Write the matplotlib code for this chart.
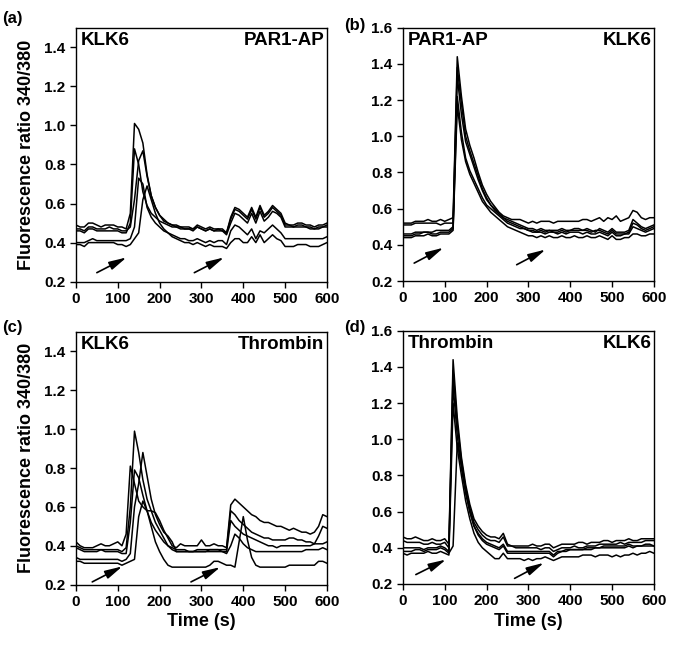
import numpy as np
import matplotlib
matplotlib.use("Agg")
import matplotlib.pyplot as plt

plt.rcParams['font.family'] = ['Liberation Sans', 'DejaVu Sans']
plt.rcParams['font.weight'] = 'bold'

# time axis (s), one reading every 10 s
time = np.arange(0, 601, 10)

# (a) KLK6 then PAR1-AP
a1 = [0.49, 0.48, 0.48, 0.50, 0.50, 0.49, 0.48, 0.49, 0.49, 0.49,
      0.48, 0.48, 0.47, 0.55, 1.01, 0.98, 0.91, 0.75, 0.64, 0.58,
      0.54, 0.52, 0.50, 0.49, 0.49, 0.48, 0.48, 0.48, 0.47, 0.49,
      0.48, 0.47, 0.48, 0.47, 0.47, 0.47, 0.45, 0.53, 0.58, 0.57,
      0.55, 0.53, 0.58, 0.53, 0.59, 0.54, 0.56, 0.59, 0.57, 0.55,
      0.50, 0.49, 0.49, 0.50, 0.50, 0.49, 0.49, 0.48, 0.49, 0.49,
      0.50]
a2 = [0.47, 0.47, 0.46, 0.48, 0.48, 0.47, 0.47, 0.47, 0.48, 0.47,
      0.47, 0.46, 0.46, 0.48, 0.62, 0.82, 0.87, 0.74, 0.64, 0.58,
      0.54, 0.51, 0.50, 0.49, 0.48, 0.48, 0.47, 0.47, 0.47, 0.48,
      0.47, 0.46, 0.47, 0.46, 0.47, 0.46, 0.45, 0.52, 0.57, 0.56,
      0.54, 0.52, 0.57, 0.52, 0.58, 0.53, 0.55, 0.58, 0.56, 0.54,
      0.49, 0.49, 0.48, 0.49, 0.49, 0.48, 0.48, 0.47, 0.48, 0.48,
      0.49]
a3 = [0.46, 0.46, 0.45, 0.47, 0.47, 0.46, 0.46, 0.46, 0.46, 0.46,
      0.46, 0.45, 0.45, 0.50, 0.88, 0.80, 0.66, 0.59, 0.55, 0.53,
      0.51, 0.50, 0.49, 0.48, 0.48, 0.47, 0.47, 0.47, 0.46, 0.48,
      0.47, 0.46, 0.47, 0.46, 0.46, 0.46, 0.44, 0.50, 0.55, 0.54,
      0.52, 0.50, 0.55, 0.50, 0.56, 0.51, 0.53, 0.56, 0.55, 0.53,
      0.48, 0.48, 0.48, 0.48, 0.48, 0.48, 0.47, 0.47, 0.47, 0.48,
      0.48]
a4 = [0.40, 0.40, 0.40, 0.41, 0.42, 0.41, 0.41, 0.41, 0.41, 0.41,
      0.41, 0.41, 0.41, 0.42, 0.48, 0.73, 0.70, 0.58, 0.53, 0.50,
      0.48, 0.46, 0.45, 0.44, 0.43, 0.42, 0.42, 0.41, 0.41, 0.42,
      0.41, 0.40, 0.41, 0.40, 0.41, 0.41, 0.39, 0.46, 0.49, 0.48,
      0.46, 0.44, 0.47, 0.42, 0.46, 0.45, 0.47, 0.49, 0.47, 0.45,
      0.42, 0.42, 0.42, 0.42, 0.42, 0.42, 0.42, 0.42, 0.42, 0.42,
      0.43]
a5 = [0.39, 0.39, 0.38, 0.40, 0.40, 0.40, 0.40, 0.40, 0.40, 0.40,
      0.39, 0.39, 0.38, 0.39, 0.42, 0.45, 0.62, 0.69, 0.62, 0.55,
      0.50, 0.47, 0.45, 0.43, 0.42, 0.41, 0.40, 0.40, 0.39, 0.40,
      0.39, 0.38, 0.39, 0.38, 0.38, 0.38, 0.37, 0.40, 0.42, 0.42,
      0.40, 0.40, 0.43, 0.40, 0.44, 0.40, 0.42, 0.44, 0.42, 0.41,
      0.38, 0.38, 0.38, 0.39, 0.39, 0.39, 0.38, 0.38, 0.38, 0.39,
      0.40]

# (b) PAR1-AP then KLK6
b1 = [0.52, 0.52, 0.52, 0.53, 0.53, 0.53, 0.54, 0.53, 0.53, 0.54,
      0.53, 0.54, 0.55, 1.44, 1.22, 1.04, 0.95, 0.88, 0.80, 0.73,
      0.68, 0.64, 0.61, 0.58, 0.56, 0.55, 0.54, 0.54, 0.54, 0.53,
      0.52, 0.53, 0.52, 0.53, 0.53, 0.53, 0.52, 0.53, 0.53, 0.53,
      0.53, 0.53, 0.53, 0.54, 0.54, 0.53, 0.54, 0.55, 0.53, 0.55,
      0.54, 0.56, 0.53, 0.54, 0.55, 0.59, 0.58, 0.55, 0.54, 0.55,
      0.55]
b2 = [0.51, 0.51, 0.51, 0.52, 0.52, 0.52, 0.52, 0.52, 0.52, 0.51,
      0.52, 0.52, 0.52, 1.38, 1.18, 1.00, 0.92, 0.85, 0.78, 0.71,
      0.66, 0.62, 0.60, 0.57, 0.55, 0.54, 0.53, 0.52, 0.51, 0.50,
      0.49, 0.49, 0.48, 0.49, 0.48, 0.48, 0.48, 0.48, 0.49, 0.48,
      0.48, 0.49, 0.49, 0.48, 0.49, 0.48, 0.47, 0.49, 0.48, 0.47,
      0.49, 0.47, 0.47, 0.47, 0.48, 0.54, 0.52, 0.50, 0.49, 0.50,
      0.51]
b3 = [0.46, 0.46, 0.46, 0.47, 0.47, 0.47, 0.47, 0.47, 0.48, 0.48,
      0.48, 0.48, 0.50, 1.33, 1.12, 0.97, 0.90, 0.83, 0.76, 0.70,
      0.65, 0.62, 0.59, 0.57, 0.55, 0.53, 0.52, 0.51, 0.50, 0.49,
      0.48, 0.48, 0.47, 0.48, 0.47, 0.48, 0.47, 0.47, 0.48, 0.47,
      0.48, 0.48, 0.48, 0.48, 0.48, 0.47, 0.48, 0.48, 0.47, 0.46,
      0.48, 0.46, 0.46, 0.46, 0.47, 0.52, 0.51, 0.49, 0.48, 0.49,
      0.50]
b4 = [0.45, 0.45, 0.45, 0.46, 0.46, 0.47, 0.47, 0.46, 0.46, 0.47,
      0.47, 0.47, 0.49, 1.22, 1.02, 0.88, 0.81, 0.76, 0.71, 0.66,
      0.62, 0.60, 0.58, 0.56, 0.54, 0.52, 0.51, 0.50, 0.49, 0.49,
      0.48, 0.47, 0.47, 0.47, 0.46, 0.47, 0.47, 0.46, 0.47, 0.46,
      0.47, 0.47, 0.47, 0.46, 0.47, 0.46, 0.46, 0.47, 0.46, 0.45,
      0.47, 0.45, 0.45, 0.46, 0.46, 0.50, 0.49, 0.48, 0.47, 0.48,
      0.49]
b5 = [0.44, 0.44, 0.44, 0.45, 0.45, 0.45, 0.46, 0.45, 0.45, 0.46,
      0.46, 0.46, 0.48, 1.17, 0.98, 0.86, 0.79, 0.74, 0.69, 0.64,
      0.61, 0.58, 0.56, 0.54, 0.52, 0.50, 0.49, 0.48, 0.47, 0.46,
      0.45, 0.45, 0.44, 0.45, 0.44, 0.45, 0.44, 0.44, 0.45, 0.44,
      0.44, 0.45, 0.44, 0.44, 0.45, 0.44, 0.44, 0.45, 0.44, 0.43,
      0.45, 0.43, 0.43, 0.44, 0.44, 0.46, 0.46, 0.45, 0.45, 0.46,
      0.46]

# (c) KLK6 then Thrombin
c1 = [0.42, 0.40, 0.39, 0.39, 0.39, 0.40, 0.41, 0.40, 0.40, 0.41,
      0.42, 0.40, 0.46, 0.81, 0.72, 0.63, 0.60, 0.58, 0.58, 0.57,
      0.53, 0.48, 0.44, 0.40, 0.39, 0.41, 0.40, 0.40, 0.40, 0.40,
      0.43, 0.40, 0.40, 0.41, 0.40, 0.40, 0.39, 0.61, 0.64, 0.62,
      0.60, 0.58, 0.56, 0.55, 0.53, 0.52, 0.52, 0.51, 0.50, 0.50,
      0.49, 0.48, 0.49, 0.48, 0.47, 0.47, 0.46, 0.47, 0.50, 0.56,
      0.55]
c2 = [0.40, 0.39, 0.38, 0.38, 0.38, 0.38, 0.38, 0.38, 0.38, 0.38,
      0.38, 0.37, 0.39, 0.60, 0.99, 0.88, 0.74, 0.64, 0.58, 0.52,
      0.48, 0.44, 0.40, 0.38, 0.37, 0.37, 0.37, 0.37, 0.37, 0.38,
      0.38, 0.38, 0.38, 0.38, 0.38, 0.38, 0.38, 0.58, 0.56, 0.53,
      0.51, 0.49, 0.47, 0.46, 0.45, 0.44, 0.44, 0.43, 0.43, 0.43,
      0.43, 0.44, 0.44, 0.43, 0.43, 0.42, 0.42, 0.41, 0.45, 0.50,
      0.49]
c3 = [0.39, 0.38, 0.37, 0.37, 0.37, 0.37, 0.38, 0.37, 0.37, 0.37,
      0.37, 0.36, 0.36, 0.52, 0.79, 0.75, 0.66, 0.58, 0.52, 0.48,
      0.45, 0.42, 0.40, 0.39, 0.38, 0.38, 0.38, 0.37, 0.37, 0.37,
      0.37, 0.37, 0.38, 0.38, 0.38, 0.37, 0.37, 0.53, 0.50, 0.48,
      0.46, 0.45, 0.44, 0.43, 0.42, 0.41, 0.40, 0.40, 0.39, 0.40,
      0.40, 0.40, 0.40, 0.40, 0.40, 0.40, 0.40, 0.41, 0.41, 0.41,
      0.42]
c4 = [0.34, 0.33, 0.33, 0.33, 0.33, 0.33, 0.33, 0.33, 0.33, 0.33,
      0.33, 0.32, 0.33, 0.36, 0.60, 0.72, 0.88, 0.76, 0.64, 0.56,
      0.51, 0.47, 0.45, 0.42, 0.37, 0.37, 0.37, 0.37, 0.37, 0.37,
      0.37, 0.37, 0.37, 0.37, 0.37, 0.37, 0.36, 0.40, 0.46, 0.44,
      0.41, 0.39, 0.38, 0.37, 0.37, 0.37, 0.37, 0.37, 0.37, 0.37,
      0.37, 0.37, 0.37, 0.37, 0.37, 0.38, 0.38, 0.38, 0.38, 0.39,
      0.38]
c5 = [0.32, 0.32, 0.31, 0.31, 0.31, 0.31, 0.31, 0.31, 0.31, 0.31,
      0.31, 0.30, 0.31, 0.32, 0.33, 0.55, 0.63, 0.58, 0.50, 0.42,
      0.37, 0.33, 0.30, 0.29, 0.29, 0.29, 0.29, 0.29, 0.29, 0.29,
      0.29, 0.29, 0.30, 0.32, 0.32, 0.31, 0.30, 0.30, 0.29, 0.42,
      0.55, 0.43, 0.34, 0.30, 0.29, 0.29, 0.29, 0.29, 0.29, 0.29,
      0.29, 0.30, 0.30, 0.30, 0.30, 0.30, 0.30, 0.30, 0.32, 0.32,
      0.31]

# (d) Thrombin then KLK6
d1 = [0.46, 0.45, 0.45, 0.46, 0.45, 0.44, 0.44, 0.45, 0.44, 0.44,
      0.45, 0.42, 1.44, 1.12, 0.90, 0.75, 0.64, 0.56, 0.52, 0.49,
      0.47, 0.46, 0.46, 0.45, 0.48, 0.42, 0.41, 0.41, 0.41, 0.41,
      0.41, 0.42, 0.41, 0.41, 0.42, 0.42, 0.40, 0.41, 0.42, 0.42,
      0.42, 0.42, 0.43, 0.43, 0.42, 0.43, 0.43, 0.43, 0.44, 0.44,
      0.43, 0.44, 0.44, 0.44, 0.45, 0.44, 0.44, 0.45, 0.45, 0.45,
      0.45]
d2 = [0.44, 0.43, 0.43, 0.43, 0.43, 0.42, 0.42, 0.43, 0.42, 0.42,
      0.43, 0.40, 1.38, 1.08, 0.88, 0.73, 0.62, 0.54, 0.50, 0.47,
      0.45, 0.44, 0.44, 0.43, 0.46, 0.41, 0.41, 0.40, 0.40, 0.40,
      0.40, 0.40, 0.40, 0.39, 0.40, 0.40, 0.38, 0.39, 0.40, 0.40,
      0.40, 0.41, 0.40, 0.40, 0.41, 0.41, 0.41, 0.42, 0.42, 0.42,
      0.42, 0.42, 0.43, 0.42, 0.43, 0.43, 0.43, 0.43, 0.44, 0.44,
      0.44]
d3 = [0.40, 0.40, 0.40, 0.40, 0.40, 0.39, 0.40, 0.40, 0.40, 0.41,
      0.40, 0.38, 1.30, 1.02, 0.84, 0.70, 0.60, 0.52, 0.48, 0.45,
      0.43, 0.42, 0.41, 0.40, 0.42, 0.38, 0.38, 0.38, 0.38, 0.38,
      0.38, 0.38, 0.38, 0.38, 0.38, 0.38, 0.36, 0.38, 0.38, 0.39,
      0.39, 0.39, 0.39, 0.39, 0.39, 0.39, 0.40, 0.40, 0.40, 0.40,
      0.40, 0.40, 0.40, 0.40, 0.41, 0.40, 0.41, 0.41, 0.41, 0.41,
      0.41]
d4 = [0.38, 0.38, 0.38, 0.39, 0.39, 0.38, 0.39, 0.39, 0.39, 0.40,
      0.39, 0.37, 0.41, 0.98, 0.86, 0.72, 0.60, 0.52, 0.47, 0.44,
      0.42, 0.41, 0.40, 0.39, 0.41, 0.37, 0.37, 0.37, 0.37, 0.37,
      0.37, 0.37, 0.37, 0.37, 0.37, 0.37, 0.35, 0.37, 0.38, 0.38,
      0.39, 0.39, 0.39, 0.39, 0.40, 0.40, 0.40, 0.40, 0.41, 0.41,
      0.41, 0.41, 0.41, 0.41, 0.42, 0.41, 0.41, 0.41, 0.42, 0.42,
      0.41]
d5 = [0.37, 0.36, 0.37, 0.37, 0.37, 0.37, 0.38, 0.37, 0.37, 0.38,
      0.37, 0.36, 1.20, 0.95, 0.80, 0.66, 0.56, 0.48, 0.43, 0.40,
      0.38, 0.36, 0.34, 0.34, 0.37, 0.34, 0.34, 0.34, 0.34, 0.33,
      0.34, 0.33, 0.34, 0.34, 0.35, 0.34, 0.33, 0.34, 0.35, 0.35,
      0.35, 0.35, 0.35, 0.36, 0.36, 0.36, 0.35, 0.36, 0.36, 0.36,
      0.35, 0.36, 0.35, 0.36, 0.36, 0.37, 0.36, 0.37, 0.37, 0.38,
      0.37]

panel_letters = ['(a)', '(b)', '(c)', '(d)']
left_labels = ['KLK6', 'PAR1-AP', 'KLK6', 'Thrombin']
right_labels = ['PAR1-AP', 'KLK6', 'Thrombin', 'KLK6']
traces = [[a1, a2, a3, a4, a5], [b1, b2, b3, b4, b5],
          [c1, c2, c3, c4, c5], [d1, d2, d3, d4, d5]]
y_tops = [1.5, 1.6, 1.5, 1.6]
y_ticks = [[0.2, 0.4, 0.6, 0.8, 1.0, 1.2, 1.4],
           [0.2, 0.4, 0.6, 0.8, 1.0, 1.2, 1.4, 1.6],
           [0.2, 0.4, 0.6, 0.8, 1.0, 1.2, 1.4],
           [0.2, 0.4, 0.6, 0.8, 1.0, 1.2, 1.4, 1.6]]
# arrows (tail x, tail y, head x, head y) marking the two additions
arrows = [[(50, 0.246, 121, 0.324), (283, 0.246, 354, 0.324)],
          [(27, 0.299, 97, 0.384), (272, 0.290, 341, 0.374)],
          [(39, 0.214, 111, 0.294), (275, 0.214, 345, 0.290)],
          [(31, 0.252, 103, 0.335), (267, 0.231, 337, 0.317)]]

fig = plt.figure(figsize=(6.84, 6.46), dpi=100)
rects = [[0.111, 0.564, 0.367, 0.393], [0.589, 0.565, 0.367, 0.392],
         [0.111, 0.095, 0.367, 0.391], [0.589, 0.096, 0.367, 0.392]]
letter_pos = [(0.003, 0.983), (0.503, 0.972), (0.003, 0.505), (0.503, 0.505)]

for i in range(4):
    ax = fig.add_axes(rects[i])
    for y in traces[i]:
        ax.plot(time, y, color='black', lw=1.1)
    ax.set_xlim(0, 600)
    ax.set_ylim(0.2, y_tops[i])
    ax.set_xticks(range(0, 601, 100))
    ax.set_yticks(y_ticks[i])
    ax.set_yticklabels([f"{v:.1f}" for v in y_ticks[i]])
    ax.tick_params(direction='out', length=4, width=1, labelsize=11,
                   top=False, right=False)
    for lbl in ax.get_xticklabels() + ax.get_yticklabels():
        lbl.set_fontweight('bold')
    for s in ax.spines.values():
        s.set_linewidth(1.0)
    ax.text(0.02, 0.985, left_labels[i], transform=ax.transAxes,
            ha='left', va='top', fontsize=13.5, fontweight='bold')
    ax.text(0.99, 0.985, right_labels[i], transform=ax.transAxes,
            ha='right', va='top', fontsize=13.5, fontweight='bold')
    for (x0, y0, x1, y1) in arrows[i]:
        ax.annotate('', xy=(x1, y1), xytext=(x0, y0),
                    arrowprops=dict(arrowstyle='-|>,head_length=0.7,head_width=0.17',
                                    color='black', lw=1.2,
                                    mutation_scale=15, shrinkA=0, shrinkB=0))
    if i % 2 == 0:
        ax.set_ylabel('Fluorescence ratio 340/380', fontsize=13,
                      fontweight='bold', labelpad=7)
    if i >= 2:
        ax.set_xlabel('Time (s)', fontsize=13, fontweight='bold', labelpad=3)
    fig.text(letter_pos[i][0], letter_pos[i][1], panel_letters[i],
             ha='left', va='top', fontsize=12, fontweight='bold')

fig.savefig('out.png', dpi=100)
